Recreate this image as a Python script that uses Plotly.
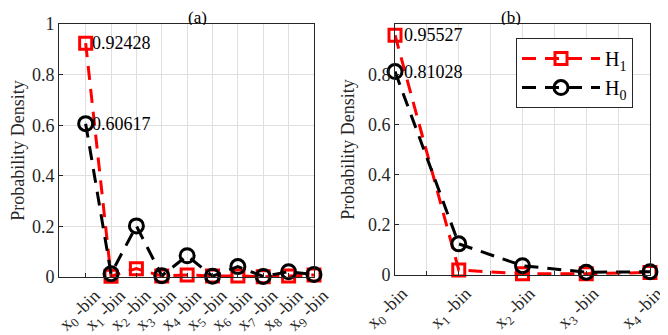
import plotly.graph_objects as go

# ---- data ----
bins_a = list(range(10))
labels_a = [f"x<sub>{i}</sub> -bin" for i in range(10)]
h1_a = [0.92428, 0.003, 0.033, 0.004, 0.008, 0.004, 0.004, 0.001, 0.004, 0.008]
h0_a = [0.60617, 0.013, 0.202, 0.005, 0.084, 0.003, 0.041, 0.002, 0.021, 0.010]

bins_b = list(range(5))
labels_b = [f"x<sub>{i}</sub> -bin" for i in range(5)]
h1_b = [0.95527, 0.020, 0.005, 0.005, 0.010]
h0_b = [0.81028, 0.124, 0.037, 0.011, 0.013]

yticks = [0, 0.2, 0.4, 0.6, 0.8, 1]
ytick_text = ["0", "0.2", "0.4", "0.6", "0.8", "1"]

FONT = "Liberation Serif"
RED = "#ff0000"
BLACK = "#000000"
AX = "#262626"
GRID = "#dfdfdf"
DASH = "14px,9px"

fig = go.Figure()

def add_series(x, y, xa, ya, color, symbol, msize, name, show):
    fig.add_trace(go.Scatter(
        x=x, y=y, xaxis=xa, yaxis=ya, mode="lines+markers", name=name,
        showlegend=show, cliponaxis=False,
        line=dict(color=color, width=3, dash=DASH),
        marker=dict(symbol=symbol, size=msize, color=color,
                    line=dict(color=color, width=3)),
    ))

# panel (a)
add_series(bins_a, h1_a, "x", "y", RED, "square-open", 12, "H<sub>1</sub>", False)
add_series(bins_a, h0_a, "x", "y", BLACK, "circle-open", 14, "H<sub>0</sub>", False)
# panel (b)
add_series(bins_b, h1_b, "x2", "y2", RED, "square-open", 12, "H<sub>1</sub>", True)
add_series(bins_b, h0_b, "x2", "y2", BLACK, "circle-open", 14, "H<sub>0</sub>", True)

axis_common = dict(
    showline=True, mirror=True, linecolor=AX, linewidth=1,
    ticks="inside", ticklen=4, tickcolor=AX,
    showgrid=True, gridcolor=GRID, gridwidth=1, zeroline=False,
    automargin=False,
    tickfont=dict(family=FONT, size=18, color=AX),
)

b_tickvals = [i * 0.5 for i in range(9)]
b_ticktext = [labels_b[int(v)] if v == int(v) else "" for v in b_tickvals]

ytitle = dict(text="Probability Density", standoff=8,
              font=dict(family=FONT, size=18, color=AX))

fig.update_layout(
    width=660, height=327,
    margin=dict(l=0, r=0, t=0, b=0),
    paper_bgcolor="white", plot_bgcolor="white",
    font=dict(family=FONT, size=18, color=AX),
    xaxis=dict(domain=[0.0773, 0.4636], range=[-1.05, 9], tickmode="array",
               tickvals=bins_a, ticktext=labels_a, tickangle=-45,
               ticklabelshift=9, ticklabeloverflow="allow",
               anchor="y", **axis_common),
    yaxis=dict(domain=[0.1774, 0.9511], range=[0, 1], tickmode="array",
               tickvals=yticks, ticktext=ytick_text, anchor="x",
               title=ytitle, **axis_common),
    xaxis2=dict(domain=[0.5864, 0.9727], range=[0, 4.0001], tickmode="array",
                tickvals=b_tickvals, ticktext=b_ticktext, tickangle=-45,
                ticklabelshift=7, ticklabeloverflow="allow",
                anchor="y2", **axis_common),
    yaxis2=dict(domain=[0.1835, 0.9511], range=[0, 1.0], tickmode="array",
                tickvals=yticks[:-1], ticktext=ytick_text[:-1], anchor="x2",
                title=ytitle, **axis_common),
    legend=dict(x=0.7697, y=0.908, xanchor="left", yanchor="top",
                bgcolor="white", bordercolor=AX, borderwidth=1,
                font=dict(family=FONT, size=20, color=BLACK),
                itemwidth=78, tracegroupgap=6),
    showlegend=True,
)

annots = [
    ("x", "y", bins_a[0], h1_a[0], 4),
    ("x", "y", bins_a[0], h0_a[0], 4),
    ("x2", "y2", bins_b[0], h1_b[0], 7),
    ("x2", "y2", bins_b[0], h0_b[0], 7),
]
for xr, yr, xv, yv, sh in annots:
    fig.add_annotation(x=xv, y=yv, xref=xr, yref=yr, text=f"{yv:.5f}".rstrip("0"),
                       showarrow=False, xanchor="left", yanchor="middle",
                       xshift=sh, font=dict(family=FONT, size=18, color=BLACK))

fig.add_annotation(x=0.271, y=1.0, xref="paper", yref="paper", text="(a)",
                   showarrow=False, yanchor="top", height=16, borderpad=0,
                   font=dict(family=FONT, size=17, color=BLACK))
fig.add_annotation(x=0.779, y=1.0, xref="paper", yref="paper", text="(b)",
                   showarrow=False, yanchor="top", height=16, borderpad=0,
                   font=dict(family=FONT, size=17, color=BLACK))

fig.write_html("out.html")
